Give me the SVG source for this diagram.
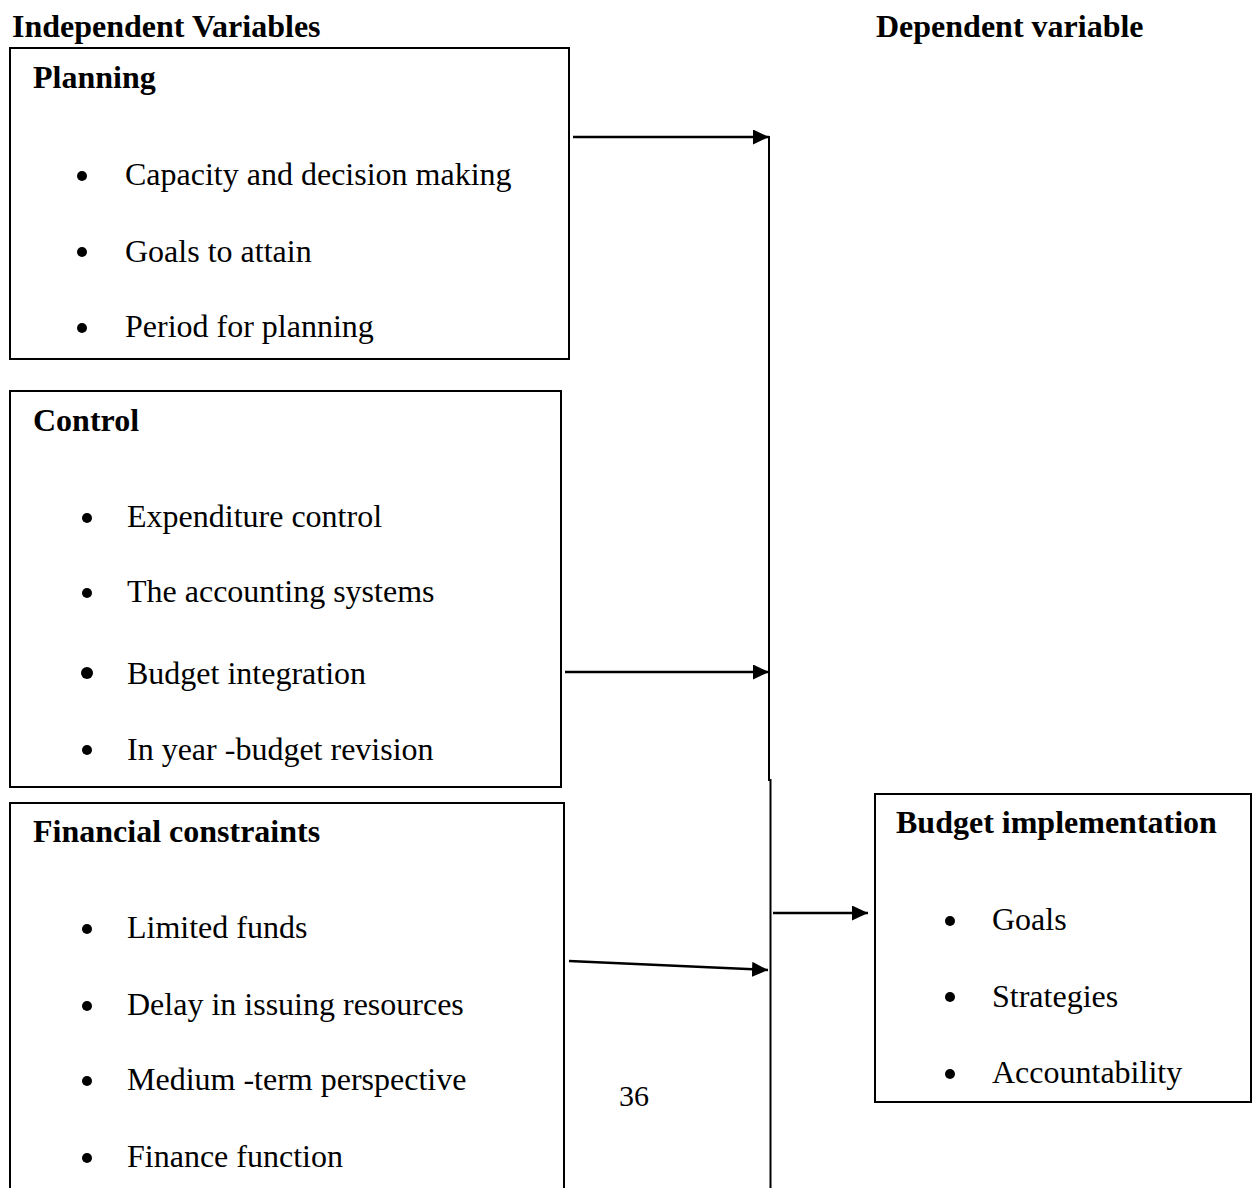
<svg xmlns="http://www.w3.org/2000/svg" width="1252" height="1188" viewBox="0 0 1252 1188">
<defs>
<marker id="ah" markerWidth="16" markerHeight="15" refX="16" refY="7.5" orient="auto" markerUnits="userSpaceOnUse">
<path d="M0,0 L16,7.5 L0,15 Z" fill="#000"/>
</marker>
<style>
.box{fill:none;stroke:#000;stroke-width:2}
.h{font-family:"Liberation Serif","Times New Roman",serif;font-weight:bold;font-size:32px;fill:#000}
.t{font-family:"Liberation Serif","Times New Roman",serif;font-size:32px;fill:#000}
.c{stroke:#000;stroke-width:2.5;fill:none}
.v{stroke:#000;stroke-width:2;fill:none}
</style>
</defs>
<rect width="1252" height="1188" fill="#fff"/>
<text class="h" x="12" y="37">Independent Variables</text>
<text class="h" x="876" y="37">Dependent variable</text>

<g id="planning">
<rect class="box" x="10" y="48" width="559" height="311"/>
<text class="h" x="33" y="88">Planning</text>
<circle cx="82" cy="176" r="5"/><text class="t" x="125" y="185">Capacity and decision making</text>
<circle cx="82" cy="252" r="5"/><text class="t" x="125" y="262">Goals to attain</text>
<circle cx="82" cy="328" r="5"/><text class="t" x="125" y="337">Period for planning</text>
</g>

<g id="control">
<rect class="box" x="10" y="391" width="551" height="396"/>
<text class="h" x="33" y="431">Control</text>
<circle cx="87" cy="518" r="5"/><text class="t" x="127" y="527">Expenditure control</text>
<circle cx="87" cy="593" r="5"/><text class="t" x="127" y="602">The accounting systems</text>
<circle cx="87" cy="673" r="6"/><text class="t" x="127" y="684">Budget integration</text>
<circle cx="87" cy="750" r="5"/><text class="t" x="127" y="760">In year -budget revision</text>
</g>

<g id="financial">
<path class="box" d="M10,1190 L10,803 L564,803 L564,1190"/>
<text class="h" x="33" y="842">Financial constraints</text>
<circle cx="87" cy="929" r="5"/><text class="t" x="127" y="938">Limited funds</text>
<circle cx="87" cy="1006" r="5"/><text class="t" x="127" y="1015">Delay in issuing resources</text>
<circle cx="87" cy="1081" r="5"/><text class="t" x="127" y="1090">Medium -term perspective</text>
<circle cx="87" cy="1158" r="5"/><text class="t" x="127" y="1167">Finance function</text>
</g>

<g id="budget">
<rect class="box" x="875" y="794" width="376" height="308"/>
<text class="h" x="896" y="833">Budget implementation</text>
<circle cx="950" cy="921" r="5"/><text class="t" x="992" y="930">Goals</text>
<circle cx="950" cy="997" r="5"/><text class="t" x="992" y="1007">Strategies</text>
<circle cx="950" cy="1074" r="5"/><text class="t" x="992" y="1083">Accountability</text>
</g>

<text id="page" x="619" y="1106" font-family="'Liberation Serif', serif" font-size="30" fill="#000">36</text>

<g id="connectors">
<path class="v" d="M769,136 L769,780 L770.5,780 L770.5,1190"/>
<line class="c" x1="573" y1="137" x2="769" y2="137" marker-end="url(#ah)"/>
<line class="c" x1="565" y1="672" x2="769" y2="672" marker-end="url(#ah)"/>
<line class="c" x1="569" y1="961" x2="768" y2="970" marker-end="url(#ah)"/>
<line class="c" x1="773" y1="913" x2="868" y2="913" marker-end="url(#ah)"/>
</g>
</svg>
